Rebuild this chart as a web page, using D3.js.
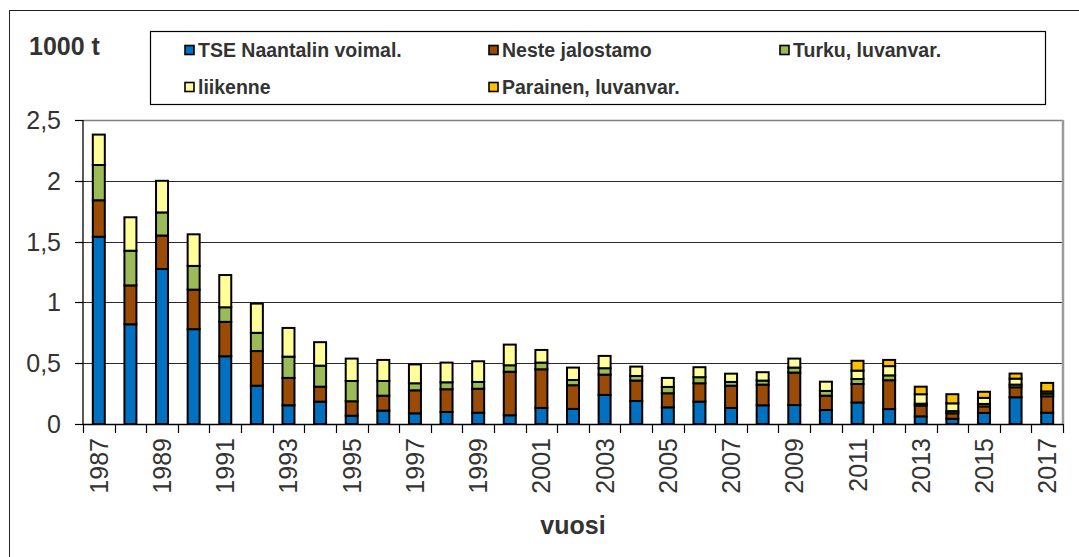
<!DOCTYPE html>
<html>
<head>
<meta charset="utf-8">
<script src="https://cdn.jsdelivr.net/npm/d3@7"></script>
<style>
  html, body { margin: 0; padding: 0; background: #fff; }
  svg { display: block; font-family: "Liberation Sans", Arial, sans-serif; }
</style>
</head>
<body>
<svg id="chart" width="1079" height="557"></svg>
<script>
// ---- data ----
const years = d3.range(1987, 2018);
const seriesNames = ["TSE Naantalin voimal.", "Neste jalostamo", "Turku, luvanvar.", "liikenne", "Parainen, luvanvar."];
const seriesColors = ["#0070C0", "#9A4B06", "#9BBB59", "#FFFF99", "#FFC000"];
const tse = [1.54,0.82,1.275,0.78,0.557,0.315,0.154,0.184,0.068,0.11,0.088,0.099,0.093,0.072,0.132,0.124,0.239,0.189,0.137,0.184,0.132,0.154,0.156,0.115,0.177,0.123,0.063,0.043,0.091,0.22,0.093];
const neste = [0.30,0.32,0.275,0.325,0.283,0.285,0.225,0.123,0.119,0.123,0.189,0.187,0.197,0.358,0.318,0.195,0.167,0.168,0.116,0.151,0.183,0.17,0.267,0.118,0.152,0.237,0.089,0.045,0.054,0.082,0.135];
const turku = [0.29,0.285,0.19,0.195,0.12,0.15,0.175,0.173,0.167,0.121,0.058,0.057,0.056,0.053,0.055,0.043,0.053,0.038,0.052,0.05,0.031,0.033,0.041,0.039,0.041,0.04,0.015,0.018,0.02,0.022,0.022];
const liikenne = [0.25,0.275,0.26,0.26,0.265,0.24,0.236,0.193,0.184,0.173,0.155,0.162,0.17,0.17,0.104,0.102,0.101,0.077,0.074,0.082,0.068,0.069,0.074,0.076,0.069,0.076,0.078,0.064,0.05,0.049,0.018];
const parainen = [0,0,0,0,0,0,0,0,0,0,0,0,0,0,0,0,0,0,0,0,0,0,0,0,0.081,0.051,0.062,0.075,0.05,0.042,0.07];
const yTicks = [0, 0.5, 1, 1.5, 2, 2.5];
const xLabelYears = years.filter(y => (y - 1987) % 2 === 0);
const yUnit = "1000 t";
const xTitle = "vuosi";

// ---- layout ----
const svg = d3.select("#chart");
const plot = { left: 83, right: 1063, top: 120, bottom: 424 };
const textColor = "#333";

svg.append("rect").attr("width", 1079).attr("height", 557).attr("fill", "#fff");
// outer frame (right/bottom outside picture)
svg.append("rect").attr("x", 9.5).attr("y", 10.5).attr("width", 1100).attr("height", 600)
  .attr("fill", "none").attr("stroke", "#222").attr("stroke-width", 1);

const x = d3.scaleBand().domain(years).range([plot.left, plot.right]).padding(0);
const y = d3.scaleLinear().domain([0, 2.5]).range([plot.bottom, plot.top]);
const fmt = d3.formatLocale({ decimal: ",", thousands: "\u00a0", grouping: [3], currency: ["", "€"] }).format("~g");

// gridlines
svg.append("g").selectAll("line").data(yTicks.filter(t => t > 0 && t < 2.5)).join("line")
  .attr("x1", plot.left).attr("x2", plot.right)
  .attr("y1", d => Math.round(y(d)) + 0.5).attr("y2", d => Math.round(y(d)) + 0.5)
  .attr("stroke", "#2a2a2a").attr("stroke-width", 1.2);
// plot top & right border (gray)
svg.append("line").attr("x1", plot.left).attr("x2", plot.right).attr("y1", y(2.5) + 0.5).attr("y2", y(2.5) + 0.5)
  .attr("stroke", "#808080").attr("stroke-width", 1.5);
svg.append("line").attr("x1", plot.right).attr("x2", plot.right).attr("y1", plot.top).attr("y2", plot.bottom)
  .attr("stroke", "#9a9a9a").attr("stroke-width", 2.5);

// stacked bars
const rows = years.map((yr, i) => ({ year: yr, s0: tse[i], s1: neste[i], s2: turku[i], s3: liikenne[i], s4: parainen[i] }));
const stack = d3.stack().keys(["s0", "s1", "s2", "s3", "s4"])(rows);
const barW = 12;
svg.append("g").selectAll("g").data(stack).join("g")
  .attr("fill", (d, i) => seriesColors[i])
  .selectAll("rect").data(d => d.filter(p => p[1] - p[0] > 0)).join("rect")
  .attr("x", d => x(d.data.year) + x.bandwidth() / 2 - barW / 2)
  .attr("width", barW)
  .attr("y", d => y(d[1]))
  .attr("height", d => y(d[0]) - y(d[1]))
  .attr("stroke", "#000").attr("stroke-width", 2);

// y axis
const yAxis = svg.append("g");
yAxis.append("line").attr("x1", plot.left).attr("x2", plot.left).attr("y1", plot.top).attr("y2", plot.bottom)
  .attr("stroke", "#000").attr("stroke-width", 1.3);
yAxis.selectAll("line.t").data(yTicks).join("line").attr("class", "t")
  .attr("x1", plot.left - 8).attr("x2", plot.left)
  .attr("y1", d => Math.round(y(d)) + 0.5).attr("y2", d => Math.round(y(d)) + 0.5)
  .attr("stroke", "#000").attr("stroke-width", 1.2);
yAxis.selectAll("text").data(yTicks).join("text")
  .attr("x", 61).attr("y", d => y(d)).attr("dy", "0.36em")
  .attr("text-anchor", "end").attr("font-size", 25).attr("fill", textColor)
  .text(d => fmt(d));

// x axis
const xAxis = svg.append("g");
xAxis.append("line").attr("x1", plot.left).attr("x2", plot.right).attr("y1", plot.bottom + 0.5).attr("y2", plot.bottom + 0.5)
  .attr("stroke", "#000").attr("stroke-width", 1.3);
const bounds = years.map(yr => x(yr)).concat([plot.right]);
xAxis.selectAll("line.t").data(bounds).join("line").attr("class", "t")
  .attr("x1", d => Math.round(d) + 0.5).attr("x2", d => Math.round(d) + 0.5)
  .attr("y1", plot.bottom).attr("y2", plot.bottom + 9)
  .attr("stroke", "#000").attr("stroke-width", 1.2);
xAxis.selectAll("text").data(xLabelYears).join("text")
  .attr("transform", d => `translate(${x(d) + x.bandwidth() / 2},${plot.bottom + 14}) rotate(-90)`)
  .attr("dy", "0.36em").attr("text-anchor", "end")
  .attr("font-size", 25).attr("fill", textColor)
  .text(d => d);

// titles
svg.append("text").attr("x", 29).attr("y", 55).attr("font-size", 25).attr("font-weight", "bold")
  .attr("fill", textColor).text(yUnit);
svg.append("text").attr("x", (plot.left + plot.right) / 2).attr("y", 534).attr("text-anchor", "middle")
  .attr("font-size", 25).attr("font-weight", "bold").attr("fill", textColor).text(xTitle);

// legend
const lg = svg.append("g");
lg.append("rect").attr("x", 150.5).attr("y", 31.5).attr("width", 895).attr("height", 73)
  .attr("fill", "#fff").attr("stroke", "#000").attr("stroke-width", 1.2);
const legendPos = [[185, 50], [489, 50], [780, 50], [185, 87], [489, 87]];
const items = lg.selectAll("g").data(seriesNames).join("g")
  .attr("transform", (d, i) => `translate(${legendPos[i][0]},${legendPos[i][1]})`);
items.append("rect").attr("x", 0).attr("y", -4.5).attr("width", 9).attr("height", 9)
  .attr("fill", (d, i) => seriesColors[i]).attr("stroke", "#000").attr("stroke-width", 1.6);
items.append("text").attr("x", 13).attr("y", 0).attr("dy", "0.36em")
  .attr("font-size", 19.5).attr("font-weight", "bold").attr("fill", textColor)
  .text(d => d);
</script>
</body>
</html>
